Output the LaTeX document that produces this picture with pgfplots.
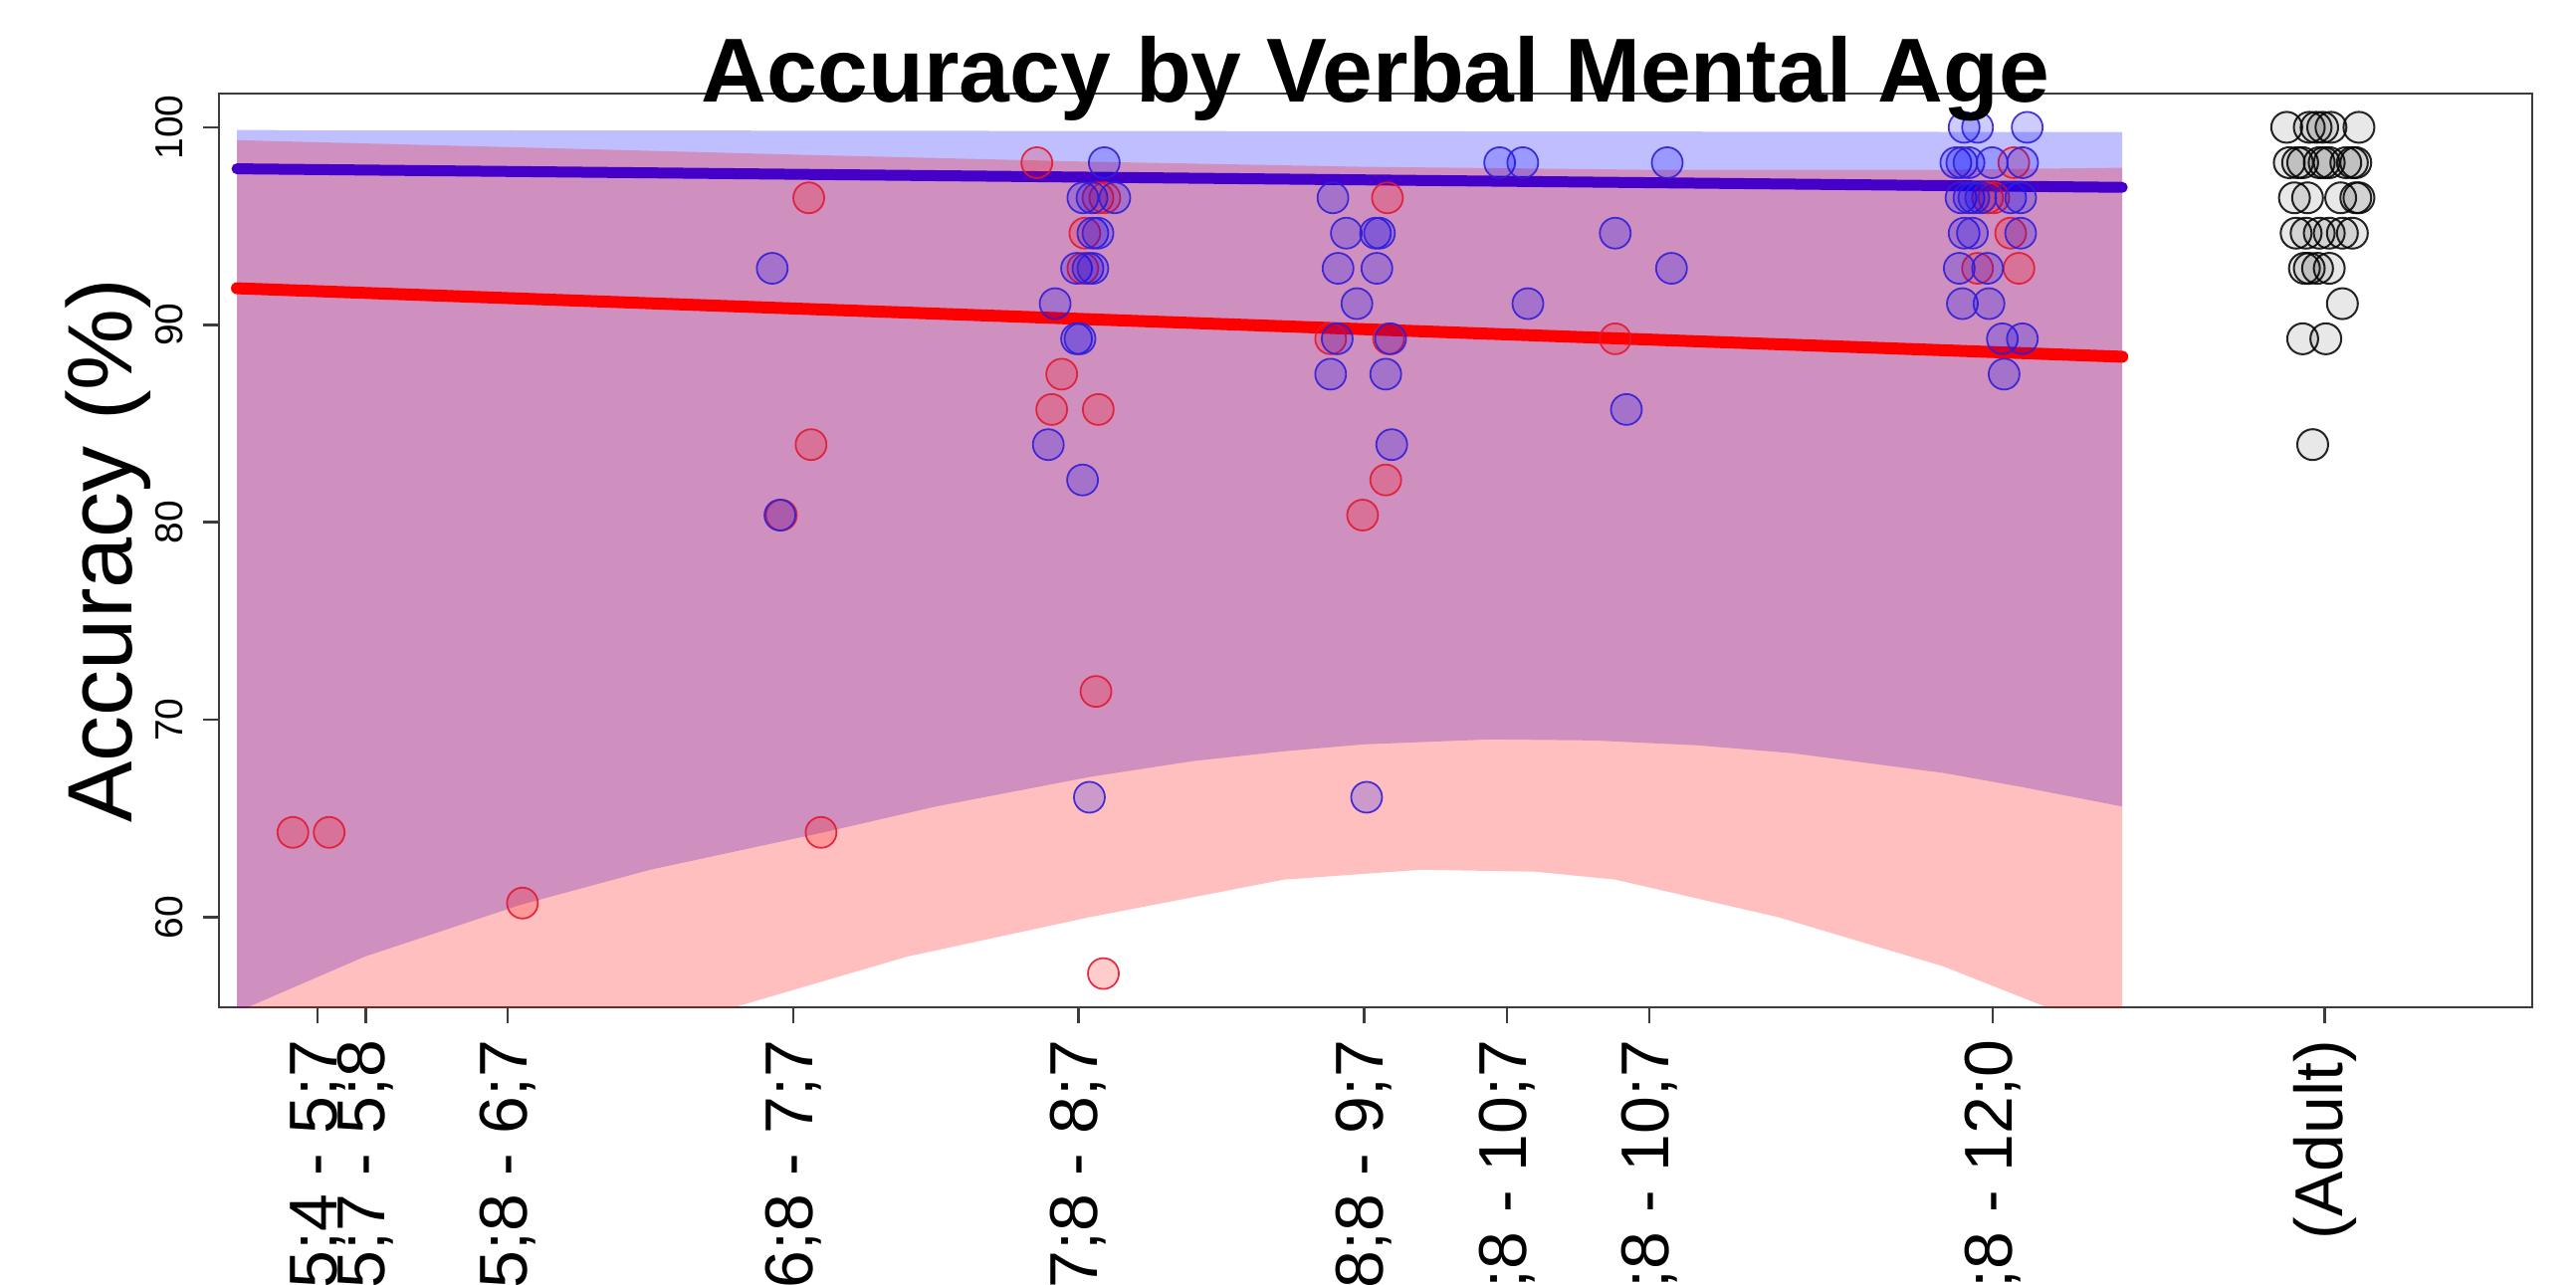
\documentclass[border=0pt]{standalone}
\usepackage{fontspec}
\setmainfont{Liberation Sans}
\usepackage{pgfplots}
\pgfplotsset{compat=1.18}
\definecolor{blueline}{RGB}{68,0,200}
\definecolor{redline}{RGB}{255,0,0}
\definecolor{redpt}{RGB}{225,25,50}
\definecolor{bluept}{RGB}{50,30,215}
\definecolor{frame}{RGB}{60,60,60}
\begin{document}
\begin{tikzpicture}
\begin{axis}[
  scale only axis,
  width=464.8pt, height=183.6pt,
  xmin=4.989, xmax=13.092,
  ymin=55.43, ymax=101.71,
  axis line style={draw=frame, line width=0.5pt},
  tick pos=left,
  tick align=outside,
  major tick length=3.1pt,
  tick style={draw=frame, line width=0.5pt},
  xtick={5.335,5.503,6,7,8,9,9.5,10,11.202,12.365},
  xticklabels={5;4 - 5;7, 5;7 - 5;8, 5;8 - 6;7, 6;8 - 7;7, 7;8 - 8;7, 8;8 - 9;7, 9;8 - 10;7, 9;8 - 10;7, 10;8 - 12;0, (Adult)},
  xticklabel style={rotate=90, anchor=east, inner sep=0pt, font=\fontsize{13.6}{14}\selectfont},
  xticklabel shift=3.3pt,
  ytick={60,70,80,90,100},
  yticklabel style={rotate=90, anchor=south, inner sep=0pt, font=\fontsize{7.8}{8}\selectfont},
  yticklabel shift=3.9pt,
  /pgf/number format/assume math mode=true,
  ylabel={Accuracy (\%)},
  ylabel style={at={(axis description cs:-0.03744,0.5)}, anchor=base, inner sep=0pt, font=\fontsize{18.4}{20}\selectfont},
]
% blue confidence band
\addplot[draw=none, fill=blue, fill opacity=0.25, forget plot] coordinates {
 (5.052,99.86) (11.656,99.76)
 (11.656,65.6) (11.3,66.6) (11.03,67.3) (10.5,68.3) (10.17,68.7) (9.8,68.95) (9.44,69.0) (9.0,68.75) (8.72,68.4) (8.4,67.9) (8.04,67.1) (7.5,65.6) (7.11,64.3) (6.5,62.4) (6.04,60.6) (5.5,58.0) (5.052,55.2)
};
% red confidence band
\addplot[draw=none, fill=red, fill opacity=0.25, forget plot] coordinates {
 (5.052,99.35) (6,99.0) (7,98.62) (8,98.27) (9,98.0) (10,97.85) (11,97.85) (11.656,97.95)
 (11.656,53.8) (11.38,55.5) (11.03,57.5) (10.45,60.0) (9.88,61.9) (9.6,62.3) (9.2,62.4) (8.72,61.9) (8.04,60.0) (7.4,58.0) (6.81,55.5) (6.2,52.8) (5.5,49.5) (5.052,47.3)
};
% red points
\addplot[only marks, mark=*, mark size=3.1pt, mark options={draw=redpt, draw opacity=0.9, fill=red, fill opacity=0.2, line width=0.35pt}] coordinates {
 (5.248,64.29) (5.375,64.29) (6.052,60.71)
 (7.055,96.43) (6.959,80.36) (7.063,83.93) (7.098,64.29)
 (7.854,98.21) (8.068,96.43) (8.092,96.43) (8.022,94.64) (8.015,92.86) (7.941,87.5) (7.906,85.71) (8.069,85.71) (8.061,71.43) (8.087,57.14)
 (9.082,96.43) (8.883,89.29) (9.086,89.29) (9.076,82.14) (8.995,80.36)
 (9.880,89.29)
 (11.276,98.21) (11.184,96.43) (11.206,96.43) (11.265,94.64) (11.149,92.86) (11.294,92.86)
};
% blue points
\addplot[only marks, mark=*, mark size=3.1pt, mark options={draw=bluept, draw opacity=0.9, fill=blue, fill opacity=0.2, line width=0.35pt}] coordinates {
 (6.927,92.86) (6.954,80.36)
 (8.090,98.21) (8.015,96.43) (8.047,96.43) (8.127,96.43) (8.050,94.64) (8.068,94.64) (7.993,92.86) (8.033,92.86) (8.050,92.86) (7.918,91.07) (7.993,89.29) (8.005,89.29) (7.894,83.93) (8.014,82.14) (8.038,66.07)
 (8.891,96.43) (8.938,94.64) (9.040,94.64) (9.054,94.64) (8.909,92.86) (9.045,92.86) (8.975,91.07) (8.906,89.29) (9.093,89.29) (8.883,87.5) (9.076,87.5) (9.097,83.93) (9.009,66.07)
 (9.475,98.21) (9.556,98.21) (10.062,98.21) (9.880,94.64) (10.077,92.86) (9.574,91.07) (9.919,85.71)
 (11.102,100) (11.149,100) (11.323,100) (11.073,98.21) (11.094,98.21) (11.119,98.21) (11.200,98.21) (11.307,98.21) (11.091,96.43) (11.119,96.43) (11.136,96.43) (11.160,96.43) (11.265,96.43) (11.300,96.43) (11.102,94.64) (11.131,94.64) (11.300,94.64) (11.085,92.86) (11.184,92.86) (11.096,91.07) (11.189,91.07) (11.236,89.29) (11.306,89.29) (11.242,87.5)
};
% adult points
\addplot[only marks, mark=*, mark size=3.1pt, mark options={draw=black, draw opacity=0.85, fill=black, fill opacity=0.09, line width=0.4pt}] coordinates {
 (12.232,100) (12.311,100) (12.335,100) (12.358,100) (12.387,100) (12.485,100)
 (12.241,98.21) (12.270,98.21) (12.288,98.21) (12.346,98.21) (12.363,98.21) (12.381,98.21) (12.439,98.21) (12.462,98.21) (12.474,98.21)
 (12.259,96.43) (12.305,96.43) (12.421,96.43) (12.474,96.43) (12.485,96.43)
 (12.265,94.64) (12.300,94.64) (12.346,94.64) (12.381,94.64) (12.427,94.64) (12.462,94.64)
 (12.294,92.86) (12.311,92.86) (12.340,92.86) (12.381,92.86)
 (12.427,91.07)
 (12.288,89.29) (12.369,89.29)
 (12.323,83.93)
};
% fitted lines
\addplot[color=blueline, line width=2.2pt, line cap=round] coordinates {(5.052,97.9) (11.656,96.96)};
\addplot[color=redline, line width=2.4pt, line cap=round] coordinates {(5.052,91.85) (11.656,88.38)};
\end{axis}
\node[anchor=base, inner sep=0pt, font=\bfseries\fontsize{18.25}{20}\selectfont] at ([yshift=-1.6pt]current axis.north) {Accuracy by Verbal Mental Age};
\pgfresetboundingbox
\path[use as bounding box] ([shift={(-44pt,-55.6pt)}]current axis.south west) rectangle ([shift={(8.8pt,18.8pt)}]current axis.north east);
\end{tikzpicture}
\end{document}
